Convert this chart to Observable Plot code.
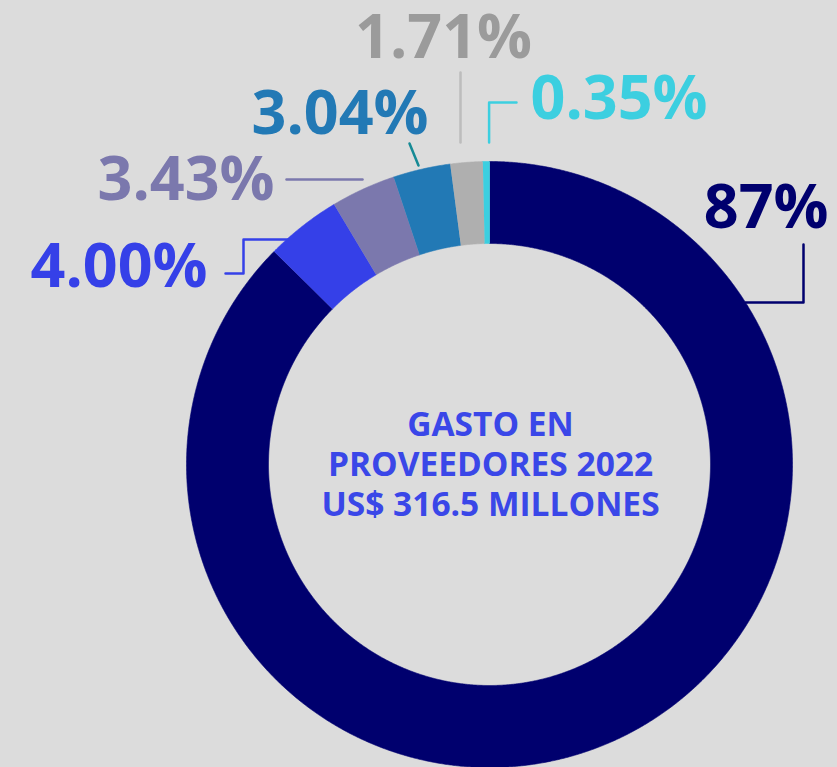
<!DOCTYPE html>
<html><head><meta charset="utf-8">
<script src="https://cdn.jsdelivr.net/npm/d3@7"></script>
<script src="https://cdn.jsdelivr.net/npm/@observablehq/plot@0.6"></script>
<style>
html,body{margin:0;padding:0;background:#dcdcdc;overflow:hidden;}
#chart svg{display:block;}
</style></head><body><div id="chart"></div>
<script>
// ---- data ----
const categories = ["87%", "4.00%", "3.43%", "3.04%", "1.71%", "0.35%"];
const values = [87, 4.00, 3.43, 3.04, 1.71, 0.35];
const labels = ["87%", "4.00%", "3.43%", "3.04%", "1.71%", "0.35%"];
const sliceColors = ["#00006e", "#3540e8", "#7b78ad", "#2279b5", "#afafaf", "#3ccfe0"];
const labelColors = ["#00006e", "#3540e8", "#7b78ad", "#2279b5", "#9b9b9b", "#3ccfe0"];
const leaderColors = ["#00006e", "#3540e8", "#7b78ad", "#168a95", "#bdbdbd", "#3ccfe0"];
const centerLines = ["GASTO EN", "PROVEEDORES 2022", "US$ 316.5 MILLONES"];

// ---- layout ----
const W = 837, H = 767;
const cx = 489, cy = 464, R = 303, r = 221;
const labelLayout = [
  {x: 828, y: 227, anchor: "end",    path: [[745, 302], [803, 302], [803, 244]]},
  {x: 207, y: 286, anchor: "end",    path: [[225, 273], [243, 273], [243, 239], [287, 239]]},
  {x: 274, y: 199, anchor: "end",    path: [[286, 179], [362, 179]]},
  {x: 428, y: 133, anchor: "end",    path: [[409, 143], [418, 165]]},
  {x: 443, y: 57,  anchor: "middle", path: [[460, 72], [460, 142]]},
  {x: 530, y: 118, anchor: "start",  path: [[488.6, 142], [488.6, 102], [516, 102]]}
];

// ---- build slices ----
const arcs = d3.pie().sort(null).value(d => d)(values);
const step = Math.PI / 720;
const sliceRows = [];
arcs.forEach((a, i) => {
  const n = Math.max(2, Math.ceil((a.endAngle - a.startAngle) / step) + 1);
  const angs = d3.range(n).map(k => a.startAngle + (a.endAngle - a.startAngle) * k / (n - 1));
  angs.forEach(t => sliceRows.push({key: categories[i], color: sliceColors[i], x: cx + R * Math.sin(t), y: cy - R * Math.cos(t)}));
  angs.slice().reverse().forEach(t => sliceRows.push({key: categories[i], color: sliceColors[i], x: cx + r * Math.sin(t), y: cy - r * Math.cos(t)}));
});

const leaderRows = [];
labelLayout.forEach((l, i) => l.path.forEach(([x, y]) => leaderRows.push({key: categories[i], color: leaderColors[i], x, y})));
const labelRows = labels.map((t, i) => ({text: t, color: labelColors[i], x: labelLayout[i].x, y: labelLayout[i].y, anchor: labelLayout[i].anchor}));

const font = "'Open Sans', sans-serif";
const textMark = anchor => Plot.text(labelRows.filter(d => d.anchor === anchor), {
  x: "x", y: "y", text: "text", fill: "color", textAnchor: anchor, lineAnchor: "bottom",
  fontSize: 61, fontWeight: 700, fontFamily: font
});

const chart = Plot.plot({
  width: W, height: H, margin: 0,
  x: {domain: [0, W], axis: null},
  y: {domain: [H, 0], axis: null},
  color: {type: "identity"},
  style: {background: "#dcdcdc", overflow: "hidden"},
  marks: [
    Plot.line(sliceRows, {x: "x", y: "y", z: "key", fill: "color", stroke: "color", strokeWidth: 0.6, curve: "linear"}),
    Plot.line(leaderRows, {x: "x", y: "y", z: "key", stroke: "color", strokeWidth: 2.5, curve: "linear"}),
    textMark("end"), textMark("middle"), textMark("start"),
    Plot.text([centerLines.join("\n")], {
      x: () => cx + 1, y: () => 515, text: d => d, fill: "#3a47e8", textAnchor: "middle",
      lineAnchor: "bottom", lineHeight: 1.18, fontSize: 33.5, fontWeight: 700, fontFamily: font
    })
  ]
});
document.getElementById("chart").appendChild(chart);
</script></body></html>
